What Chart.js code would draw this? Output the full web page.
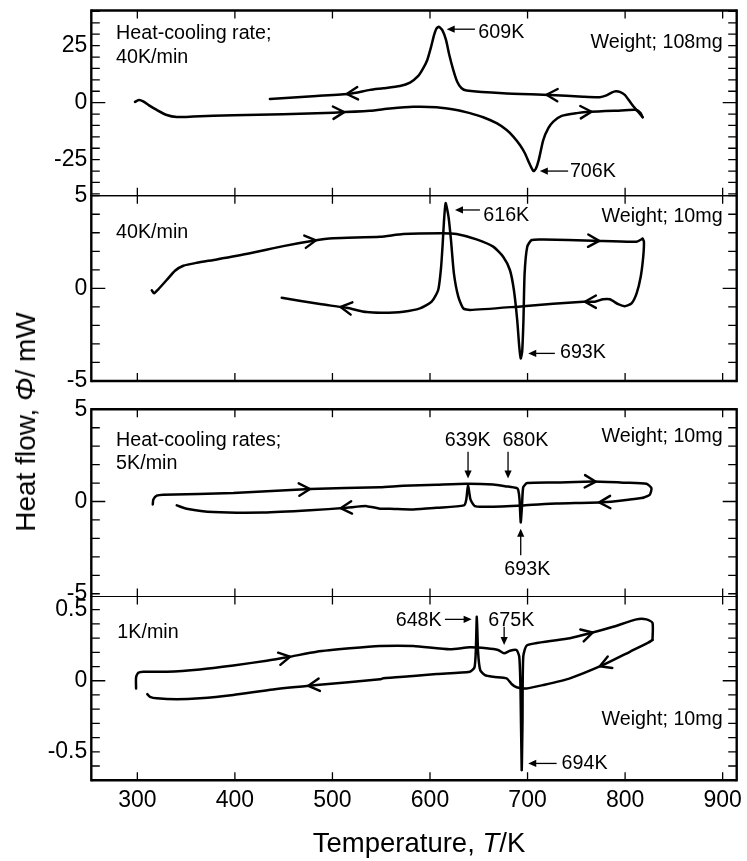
<!DOCTYPE html>
<html>
<head>
<meta charset="utf-8">
<title>DSC heat flow</title>
<script src="https://cdn.jsdelivr.net/npm/chart.js@4/dist/chart.umd.min.js"></script>
<style>
  html, body { margin: 0; padding: 0; background: #fff; }
  #wrap { position: relative; width: 747px; height: 861px; overflow: hidden; background: #fff; }
  #wrap canvas { position: absolute; left: 0; top: 0; }
  .axis-title { position: absolute; font-family: 'Liberation Sans', Arial, Helvetica, sans-serif; color: #000; white-space: nowrap; }
  #xTitle { font-size: 27.5px; line-height: 27.5px; left: 419px; top: 828.5px; transform: translateX(-50%); }
  #yTitle { font-size: 28px; line-height: 28px; left: 26px; top: 421.5px; transform: translate(-50%, -50%) rotate(-90deg); }
</style>
</head>
<body>
<div id="wrap">
  <canvas id="panel1" width="747" height="861"></canvas>
  <canvas id="panel2" width="747" height="861"></canvas>
  <canvas id="panel3" width="747" height="861"></canvas>
  <canvas id="panel4" width="747" height="861"></canvas>
  <div class="axis-title" id="yTitle">Heat flow, <i>Φ</i>/ mW</div>
  <div class="axis-title" id="xTitle">Temperature, <i>T</i>/K</div>
</div>
<script>
// ---- shared temperature axis ----
const tempTicks = [300, 400, 500, 600, 700, 800, 900];

// ---- 40 K/min, 108 mg : [T / K, heat flow / mW] ----
const p1Heating = [
  [297.6, 0.3], [301.5, 1.2], [306, 0.6], [312, -1.2], [319.9, -3.2], [330.1, -5.4], [340.4, -6.3],
  [357.4, -6.1], [398.4, -5.5], [449.6, -5.1], [500.9, -4.4], [538.4, -3.6], [558.9, -2.6],
  [582.8, -1.8], [606.7, -2.0], [627.2, -3.2], [640.9, -4.6], [654.5, -6.4], [668.3, -9.0],
  [678.6, -12.0], [685.4, -14.9], [692.2, -18.6], [697.3, -22.2], [701.8, -26.6], [706, -30.0],
  [708.5, -29.0], [711.5, -25.1], [716.1, -16.4], [721.3, -11.2], [726.4, -8.3], [735, -5.8],
  [750.4, -4.6], [764, -4.0], [791.3, -3.5], [811.8, -3.2], [815.9, -4.6], [818, -6.4]
];
const p1Cooling = [
  [818, -6.4], [813.3, -4.0], [808.2, -1.5], [803.1, 1.5], [799.7, 3.4], [794.6, 4.7], [790.5, 5.0],
  [786.1, 4.4], [780.9, 3.2], [774.1, 2.4], [757, 2.6], [722.8, 3.4], [675, 4.1], [637.5, 5.3],
  [632.4, 6.3], [627.9, 9.2], [623.9, 14.3], [619.8, 20.9], [616.4, 27.5], [612.5, 31.9], [609, 33.3],
  [606.5, 32.4], [604.2, 29.7], [601.2, 24.6], [597.2, 18.7], [593.1, 15.1], [588, 11.7], [579.5, 8.8],
  [569.2, 7.3], [552.1, 6.3], [538.4, 5.6], [518, 3.9], [483.8, 2.9], [435.9, 1.6]
];

// ---- 40 K/min, 10 mg ----
const p2Heating = [
  [314.8, -0.1], [317.1, -0.27], [321.5, -0.05], [330.1, 0.45], [338.6, 0.95], [347.1, 1.22],
  [360.9, 1.38], [381.4, 1.56], [415.5, 1.89], [449.6, 2.28], [480.3, 2.57], [500.8, 2.7],
  [548.7, 2.78], [572.5, 2.93], [611.9, 2.97], [627.2, 2.93], [647.7, 2.64], [664.8, 2.25],
  [675, 1.71], [681.9, 0.99], [686, -0.09], [689.4, -1.71], [691.5, -3.15], [693, -3.78],
  [694.5, -3.4], [695.8, -1.71], [697, 0.81], [699.7, 2.25], [704.2, 2.61], [716.1, 2.64],
  [767.3, 2.57], [811.7, 2.52], [818, 2.68]
];
const p2Cooling = [
  [818, 2.68], [819.3, 2.52], [818.6, 1.71], [816, 0.63], [811.8, -0.27], [806.6, -0.81],
  [799.7, -0.96], [792.9, -0.85], [784.3, -0.59], [777.5, -0.59], [769, -0.72], [757, -0.72],
  [695.5, -0.96], [640.9, -1.17], [634.1, -1.08], [629, -0.45], [624.5, 0.81], [621.5, 2.61],
  [619, 3.86], [616, 4.6], [614.3, 3.6], [613, 2.4], [611.3, 1.1], [608.4, -0.09], [601.7, -0.72],
  [589.7, -1.08], [572.5, -1.26], [552.1, -1.32], [535, -1.28], [514.5, -1.05], [487.2, -0.85],
  [448, -0.51]
];

// ---- 5 K/min, 10 mg ----
const p3Heating = [
  [315.8, -0.16], [316.4, 0.11], [319.9, 0.32], [326.6, 0.37], [398.4, 0.46], [477, 0.68],
  [548.7, 0.78], [572.5, 0.85], [606.7, 0.91], [637.5, 0.96], [664.8, 0.92], [678.5, 0.82],
  [688.7, 0.73], [690.4, 0.64], [691.8, 0.11], [693, -1.13], [694.3, -0.25], [695.6, 0.78],
  [699.7, 1.0], [729.7, 1.03], [767.3, 1.08], [800, 1.02], [821.9, 0.96], [827, 0.73],
  [825.3, 0.37], [818.4, 0.2]
];
const p3Cooling = [
  [818.4, 0.2], [804.8, 0.11], [777.5, -0.04], [729.7, -0.11], [695.5, -0.21], [658, -0.28],
  [646, -0.25], [641.5, 0.11], [639, 0.91], [637.2, 0.11], [634.8, -0.21], [606.7, -0.34],
  [582.8, -0.43], [558.9, -0.39], [548.7, -0.39], [535, -0.25], [514.5, -0.34], [477, -0.48],
  [429.1, -0.6], [377.9, -0.57], [350.6, -0.39], [340.4, -0.21]
];

// ---- 1 K/min, 10 mg ----
const p4Heating = [
  [298.7, -0.054], [298.7, 0.024], [301, 0.056], [306.1, 0.063], [330.1, 0.063], [364.2, 0.08],
  [398.4, 0.108], [432.6, 0.141], [456.4, 0.169], [483.8, 0.204], [517.9, 0.228], [548.7, 0.244],
  [582.8, 0.244], [620.4, 0.221], [640.9, 0.235], [658, 0.228], [669.8, 0.216], [676, 0.193],
  [681.9, 0.211], [688.7, 0.216], [691.5, 0.169], [692.8, -0.065], [694, -0.629], [694.8, -0.3],
  [695.6, 0.169], [699.7, 0.251], [743.4, 0.299], [763.9, 0.334], [787.8, 0.38], [811.7, 0.432],
  [821.9, 0.432], [828.1, 0.408], [828.1, 0.287]
];
const p4Cooling = [
  [828.1, 0.287], [823.7, 0.268], [804.9, 0.204], [777.5, 0.111], [743.4, 0.017], [716.1, -0.03],
  [699, -0.054], [688.7, -0.046], [683.6, -0.023], [678.5, 0.017], [664.8, 0.028], [656.3, 0.04],
  [651.5, 0.075], [649.3, 0.2], [648, 0.451], [647, 0.216], [645.6, 0.094], [640.9, 0.063],
  [606.7, 0.047], [582.8, 0.033], [552.1, 0.017], [548.7, 0.01], [483.8, -0.03], [439.3, -0.061],
  [398.4, -0.1], [364.2, -0.124], [340.4, -0.131], [319.9, -0.124], [313, -0.113], [310.2, -0.094]
];

// ---- y-axis labelled values per panel ----
const p1YLabels = [-25, 0, 25];
const p2YLabels = [-5, 0, 5];
const p3YLabels = [-5, 0, 5];
const p4YLabels = [-0.5, 0, 0.5];

// ---- page geometry ----
const PAGE_W = 747, PAGE_H = 861;
const AREA_LEFT = 91.3, AREA_RIGHT = 736.7;
const T_MIN = 252.8, T_MAX = 914.4;
const FONT = "'Liberation Sans', Arial, Helvetica, sans-serif";
const TICK_FONT = 23;
const NOTE_FONT = 19.7;

Chart.defaults.font.family = FONT;
Chart.defaults.color = '#000';

const panels = [
  {
    id: 'panel1', heating: p1Heating, cooling: p1Cooling, yLabels: p1YLabels,
    top: 10.5, bottom: 195.7, yMin: -40.8, yMax: 40.4, minorStep: 5,
    topEdge: 2.4, bottomEdge: 1.2,
    heatArrows: [512, 765.6], coolArrows: [514.6, 719.4],
    notes: [
      ['Heat-cooling rate;', 278.2, 30.1, 'left'],
      ['40K/min', 278.2, 19.6, 'left'],
      ['Weight; 108mg', 900, 26.3, 'right'],
      ['609K', 649.5, 30.8, 'left'],
      ['706K', 743.4, -30.3, 'left']
    ],
    pointers: [[646.1, 32.2, 617.1, 32.2], [741.6, -30.0, 712.6, -30.0]]
  },
  {
    id: 'panel2', heating: p2Heating, cooling: p2Cooling, yLabels: p2YLabels,
    top: 195.7, bottom: 381, yMin: -5, yMax: 5, minorStep: 1,
    topEdge: 1.2, bottomEdge: 2.4,
    heatArrows: [483.1, 773.4], coolArrows: [508.4, 758.8],
    notes: [
      ['40K/min', 278.2, 3.01, 'left'],
      ['Weight; 10mg', 900, 3.89, 'right'],
      ['616K', 654.6, 3.91, 'left'],
      ['693K', 733.2, -3.49, 'left']
    ],
    pointers: [[651.2, 4.23, 625.6, 4.23], [728, -3.51, 700.7, -3.51]]
  },
  {
    id: 'panel3', heating: p3Heating, cooling: p3Cooling, yLabels: p3YLabels,
    top: 409.3, bottom: 596.5, yMin: -5.15, yMax: 5, minorStep: 1,
    topEdge: 2.4, bottomEdge: 1.2,
    heatArrows: [477, 770], coolArrows: [508.4, 773.5],
    notes: [
      ['Heat-cooling rates;', 278.2, 3.33, 'left'],
      ['5K/min', 278.2, 2.05, 'left'],
      ['Weight; 10mg', 900, 3.51, 'right'],
      ['639K', 638.7, 3.29, 'center'],
      ['680K', 697.8, 3.29, 'center'],
      ['693K', 699.8, -3.69, 'center']
    ],
    pointers: [[639, 2.7, 639, 1.25], [680, 2.7, 680, 1.25], [693, -2.92, 693, -1.47]]
  },
  {
    id: 'panel4', heating: p4Heating, cooling: p4Cooling, yLabels: p4YLabels,
    top: 596.5, bottom: 780.2, yMin: -0.70, yMax: 0.593, minorStep: 0.1,
    topEdge: 1.2, bottomEdge: 2.4, showX: true,
    heatArrows: [456.5, 766.7], coolArrows: [475.3, 774.1],
    notes: [
      ['1K/min', 279.5, 0.342, 'left'],
      ['Weight; 10mg', 900, -0.275, 'right'],
      ['648K', 612, 0.427, 'right'],
      ['675K', 659.8, 0.427, 'left'],
      ['694K', 734.9, -0.582, 'left']
    ],
    pointers: [[615.3, 0.432, 642.7, 0.432], [676, 0.38, 676, 0.251], [729.8, -0.582, 700.7, -0.582]]
  }
];

const toXY = arr => arr.map(([x, y]) => ({ x, y }));

// locate the segment of a trace that crosses temperature t
function segmentAt(data, t) {
  for (let i = 0; i < data.length - 1; i++) {
    const a = data[i], b = data[i + 1];
    if (a.x !== b.x && (t - a.x) * (t - b.x) <= 0) {
      const f = (t - a.x) / (b.x - a.x);
      return { a, b, y: a.y + f * (b.y - a.y) };
    }
  }
  return null;
}

// frame, inward tick marks, direction chevrons and peak annotations
function makeDecor(p) {
  return {
    id: 'decor_' + p.id,
    afterDatasetsDraw(chart) {
      const { ctx, chartArea: a } = chart;
      const xs = chart.scales.x, ys = chart.scales.y;
      ctx.save();
      ctx.strokeStyle = '#000';
      ctx.fillStyle = '#000';

      // tick marks pointing into the panel
      ctx.lineWidth = 1.3;
      ctx.beginPath();
      tempTicks.forEach(t => {
        const px = xs.getPixelForValue(t);
        ctx.moveTo(px, a.top); ctx.lineTo(px, a.top + 8);
        ctx.moveTo(px, a.bottom); ctx.lineTo(px, a.bottom - 8);
      });
      const step = p.minorStep;
      for (let k = Math.ceil(ys.min / step - 1e-6); k * step <= ys.max + 1e-6; k++) {
        const v = k * step;
        const py = ys.getPixelForValue(v);
        const len = Math.abs(v) < 1e-6 ? 14 : 8.5;
        ctx.moveTo(a.left, py); ctx.lineTo(a.left + len, py);
        ctx.moveTo(a.right, py); ctx.lineTo(a.right - len, py);
      }
      ctx.stroke();

      // panel frame
      const line = (w, x1, y1, x2, y2) => {
        ctx.lineWidth = w;
        ctx.beginPath(); ctx.moveTo(x1, y1); ctx.lineTo(x2, y2); ctx.stroke();
      };
      line(2.4, a.left, a.top - p.topEdge / 2, a.left, a.bottom + p.bottomEdge / 2);
      line(2.4, a.right, a.top - p.topEdge / 2, a.right, a.bottom + p.bottomEdge / 2);
      line(p.topEdge, a.left, a.top, a.right, a.top);
      line(p.bottomEdge, a.left, a.bottom, a.right, a.bottom);

      // chevrons showing the scan direction along each trace
      ctx.lineWidth = 2.4;
      ctx.lineJoin = 'round';
      ctx.lineCap = 'round';
      [[0, p.heatArrows], [1, p.coolArrows]].forEach(([di, temps]) => {
        const data = chart.data.datasets[di].data;
        temps.forEach(t => {
          const s = segmentAt(data, t);
          if (!s) return;
          const tx = xs.getPixelForValue(t), ty = ys.getPixelForValue(s.y);
          let dx = xs.getPixelForValue(s.b.x) - xs.getPixelForValue(s.a.x);
          let dy = ys.getPixelForValue(s.b.y) - ys.getPixelForValue(s.a.y);
          const n = Math.hypot(dx, dy) || 1;
          dx /= n; dy /= n;
          const L = 11, W = 6.2;
          ctx.beginPath();
          ctx.moveTo(tx - L * dx - W * dy, ty - L * dy + W * dx);
          ctx.lineTo(tx, ty);
          ctx.lineTo(tx - L * dx + W * dy, ty - L * dy - W * dx);
          ctx.stroke();
        });
      });

      // pointer arrows to the transition peaks
      p.pointers.forEach(([t1, v1, t2, v2]) => {
        const x1 = xs.getPixelForValue(t1), y1 = ys.getPixelForValue(v1);
        const x2 = xs.getPixelForValue(t2), y2 = ys.getPixelForValue(v2);
        let dx = x2 - x1, dy = y2 - y1;
        const n = Math.hypot(dx, dy) || 1;
        dx /= n; dy /= n;
        const H = 8, HW = 3.6;
        ctx.lineWidth = 1.3;
        ctx.lineCap = 'butt';
        ctx.beginPath();
        ctx.moveTo(x1, y1);
        ctx.lineTo(x2 - H * dx * 0.8, y2 - H * dy * 0.8);
        ctx.stroke();
        ctx.beginPath();
        ctx.moveTo(x2, y2);
        ctx.lineTo(x2 - H * dx - HW * dy, y2 - H * dy + HW * dx);
        ctx.lineTo(x2 - H * dx + HW * dy, y2 - H * dy - HW * dx);
        ctx.closePath();
        ctx.fill();
      });

      // text labels
      ctx.font = NOTE_FONT + 'px ' + FONT;
      ctx.textBaseline = 'middle';
      p.notes.forEach(([text, t, v, align]) => {
        ctx.textAlign = align;
        ctx.fillText(text, xs.getPixelForValue(t), ys.getPixelForValue(v));
      });
      ctx.restore();
    }
  };
}

function buildPanel(p) {
  const traceStyle = {
    showLine: true, borderColor: '#000', borderWidth: 2.5, pointRadius: 0,
    tension: 0.2, borderJoinStyle: 'round', borderCapStyle: 'round', fill: false
  };
  new Chart(document.getElementById(p.id), {
    type: 'scatter',
    data: {
      datasets: [
        Object.assign({ label: 'heating', data: toXY(p.heating) }, traceStyle),
        Object.assign({ label: 'cooling', data: toXY(p.cooling) }, traceStyle)
      ]
    },
    options: {
      responsive: false,
      animation: false,
      events: [],
      layout: {
        padding: { left: 0, right: PAGE_W - AREA_RIGHT, top: p.top, bottom: p.showX ? 0 : PAGE_H - p.bottom }
      },
      plugins: { legend: { display: false }, tooltip: { enabled: false } },
      scales: {
        x: {
          type: 'linear', min: T_MIN, max: T_MAX, display: !!p.showX,
          grid: { display: false, drawTicks: false }, border: { display: false },
          ticks: { font: { size: TICK_FONT }, color: '#000', padding: 7, maxRotation: 0, autoSkip: false, callback: v => String(v) },
          afterBuildTicks: s => { s.ticks = tempTicks.map(v => ({ value: v })); },
          afterFit: s => {
            if (!p.showX) return;
            s.height = PAGE_H - p.bottom; s.paddingLeft = 0; s.paddingRight = 0;
          }
        },
        y: {
          type: 'linear', min: p.yMin, max: p.yMax,
          grid: { display: false, drawTicks: false }, border: { display: false },
          ticks: { font: { size: TICK_FONT }, color: '#000', padding: 4, autoSkip: false, callback: v => String(v) },
          afterBuildTicks: s => { s.ticks = p.yLabels.map(v => ({ value: v })); },
          afterFit: s => { s.width = AREA_LEFT; s.paddingTop = 0; s.paddingBottom = 0; }
        }
      }
    },
    plugins: [makeDecor(p)]
  });
}

panels.forEach(buildPanel);
</script>
</body>
</html>
